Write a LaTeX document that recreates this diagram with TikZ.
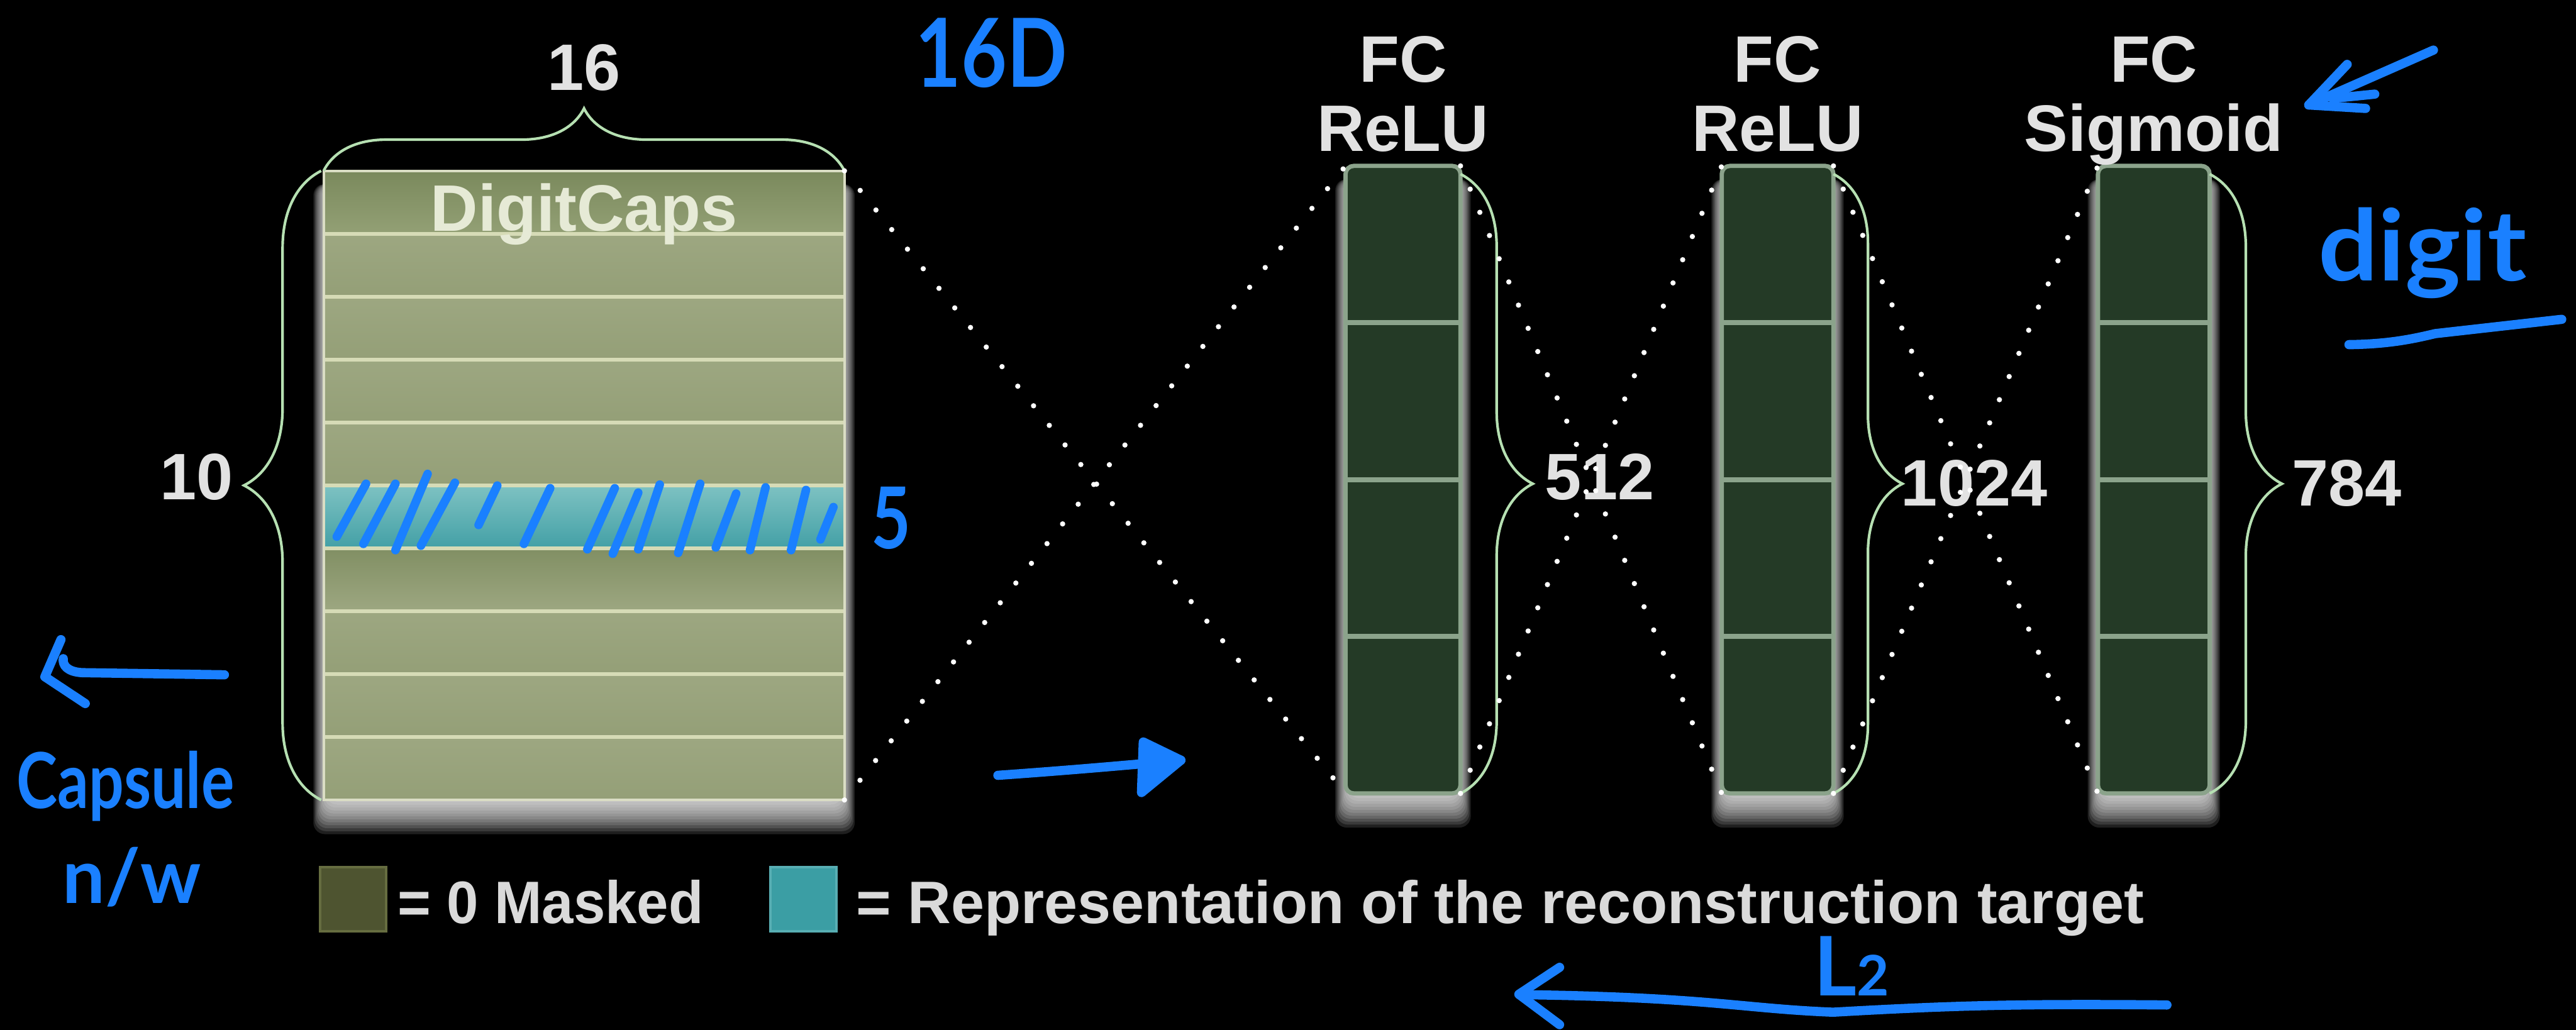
\documentclass[tikz,border=0pt]{standalone}
\usepackage{fontspec}
\setmainfont{Liberation Sans}
\newfontfamily\handfont{Lato}
\usetikzlibrary{decorations.pathreplacing}
\definecolor{lblgray}{HTML}{E2E2E2}
\definecolor{capstext}{HTML}{E6EAD6}
\definecolor{capsfill}{HTML}{98A37C}
\definecolor{captopA}{HTML}{7A895C}
\definecolor{captopB}{HTML}{93A075}
\definecolor{rowtop}{HTML}{9DA781}
\definecolor{rowbot}{HTML}{949F77}
\definecolor{tealtop}{HTML}{7EC2C2}
\definecolor{tealbot}{HTML}{43A0A6}
\definecolor{rowline}{HTML}{D6DBB6}
\definecolor{capsborder}{HTML}{DADDC4}
\definecolor{fcfill}{HTML}{243A26}
\definecolor{fcborder}{HTML}{8BA38B}
\definecolor{bracegreen}{HTML}{B6E0B2}
\definecolor{maskfill}{HTML}{4E5430}
\definecolor{maskborder}{HTML}{666D40}
\definecolor{legteal}{HTML}{3B9EA4}
\definecolor{legtealb}{HTML}{58AEB3}
\definecolor{legtext}{HTML}{DADADA}
\definecolor{handblue}{HTML}{1A80FF}
\newcommand\myglow[4]{%
  \foreach \k in {0,...,11}{%
    \fill[white, opacity=0.12, rounded corners=7pt]
      ({#1+2-0.75*\k},{#2+8}) rectangle ({#3-2+0.75*\k},{#4+1+1.8*\k});
  }}
\begin{document}
\begin{tikzpicture}[x=1pt,y=-1pt,
  box/.style={inner sep=0pt, outer sep=0pt, draw=none},
  lbl/.style={inner sep=0pt, text=lblgray, font=\bfseries\fontsize{40}{44}\selectfont},
  legtxt/.style={inner sep=0pt, text=legtext, font=\bfseries\fontsize{36.5}{40}\selectfont},
  brc/.style={draw=bracegreen, line width=1.6pt, decorate, decoration={brace, amplitude=#1}},
  dotline/.style={draw=white, line width=3.2pt, line cap=round, dash pattern=on 0pt off 15.3pt},
  hw/.style={draw=handblue, line width=5.6pt, line cap=round, line join=round},
  htext/.style={inner sep=0pt, text=handblue, font=\handfont\bfseries},
  fcline/.style={draw=fcborder, line width=3pt},
]
\useasboundingbox[fill=black] (0,0) rectangle (1568,627);

% ---------- DigitCaps block ----------
\node[box, minimum width=317pt, minimum height=383pt] (caps) at (355.5,295.5) {};
\myglow{197}{104}{514}{487}
\fill[capsfill] (197,104) rectangle (514,487);
\shade[top color=captopA, bottom color=captopB] (197,104) rectangle (514,142.3);
\foreach \i in {1,...,9}{
  \shade[top color=rowtop, bottom color=rowbot] (197,{104+38.3*\i}) rectangle (514,{104+38.3*(\i+1)});
}
\shade[top color=captopA!80!rowtop, bottom color=rowtop] (197,333.8) rectangle (514,372.1);
\shade[top color=tealtop, bottom color=tealbot] (197,295.5) rectangle (514,333.8);
\foreach \i in {1,...,9}{
  \draw[rowline, line width=2.4pt] (197,{104+38.3*\i}) -- (514,{104+38.3*\i});
}
\draw[capsborder, line width=1.6pt] (197,104) rectangle (514,487);

% ---------- FC columns ----------
\foreach \n/\cx/\w in {fc1/854/70, fc2/1082/68, fc3/1311/68}{
  \node[box, minimum width=\w pt, minimum height=382pt] (\n) at (\cx,292) {};
  \myglow{\cx-\w/2}{101}{\cx+\w/2}{483}
  \filldraw[fill=fcfill, draw=fcborder, line width=2.6pt, rounded corners=5pt]
    ({\cx-\w/2},101) rectangle ({\cx+\w/2},483);
  \foreach \yy in {196.5,292,387.5}{
    \draw[fcline] ({\cx-\w/2+1.3},\yy) -- ({\cx+\w/2-1.3},\yy);
  }
}

% ---------- braces ----------
\draw[brc=38] (caps.north west) -- (caps.north east);
\draw[brc=47] ([xshift=-1.5pt]caps.south west) -- ([xshift=-1.5pt]caps.north west);
\draw[brc=44] ([yshift=-5pt]fc1.north east) -- (fc1.south east);
\draw[brc=42] ([yshift=-5pt]fc2.north east) -- (fc2.south east);
\draw[brc=44] ([yshift=-5pt]fc3.north east) -- (fc3.south east);

% ---------- labels ----------
\node[lbl, anchor=base] (l16) at (355.5,55) {16};
\node[lbl, anchor=base, text=capstext] (ldc) at (355.5,140.5) {DigitCaps};
\node[lbl, anchor=base east] (l10) at (142,304) {10};
\node[lbl, anchor=base] (fc1a) at (854,50) {FC};
\node[lbl, anchor=base] (fc1b) at (854,92) {ReLU};
\node[lbl, anchor=base] (fc2a) at (1082,50) {FC};
\node[lbl, anchor=base] (fc2b) at (1082,92) {ReLU};
\node[lbl, anchor=base] (fc3a) at (1311,50) {FC};
\node[lbl, anchor=base] (fc3b) at (1311,92) {Sigmoid};
\node[lbl, anchor=base west] (n512) at (940,304) {512};
\node[lbl, anchor=base west] (n1024) at (1157,308) {1024};
\node[lbl, anchor=base west] (n784) at (1395,308) {784};

% ---------- dotted connections ----------
\draw[dotline] (caps.north east) -- (fc1.south west);
\draw[dotline] (caps.south east) -- (fc1.north west);
\draw[dotline] (fc1.north east) -- (fc2.south west);
\draw[dotline] (fc1.south east) -- (fc2.north west);
\draw[dotline] (fc2.north east) -- (fc3.south west);
\draw[dotline] (fc2.south east) -- (fc3.north west);

% ---------- legend ----------
\node[box, minimum width=40pt, minimum height=39pt, fill=maskfill, draw=maskborder, line width=1.5pt] (lgm) at (215,547.5) {};
\node[legtxt, anchor=base west] (lgmt) at (242,562) {\scalebox{0.95}[1]{= 0 Masked}};
\node[box, minimum width=40pt, minimum height=39pt, fill=legteal, draw=legtealb, line width=1.5pt] (lgt) at (489,547.5) {};
\node[legtxt, anchor=base west] (lgtt) at (521,562) {= Representation of the reconstruction target};

% ---------- hand-written annotations ----------
\foreach \a/\b/\c/\d in {222.8/294.5/205/326.7, 240.7/294.5/221.2/331.1, 260.3/288.5/240.7/334.9,
  276.9/293.9/256.2/332.2, 302.7/295.6/291.3/319.6, 334.9/297.2/318.9/331.1,
  374.2/297.2/357.5/334.4, 388.5/299.9/373/337.1, 401.6/295/388.5/334.4,
  426.2/294.5/412.8/336.6, 448.1/300.5/435.7/333.3, 466/296.7/456.5/334.9,
  490.6/298.3/481.5/334.9, 507.3/308.7/499.4/328.4}{
  \draw[hw, line width=5.2pt] (\a,\b) -- (\c,\d);
}
\node[htext, anchor=base west, font=\handfont\bfseries\fontsize{52}{56}\selectfont] (h5) at (530,334) {\scalebox{0.8}[1]{5}};
\node[htext, anchor=base west, font=\handfont\bfseries\fontsize{58}{62}\selectfont] (h16d) at (557,53) {\scalebox{0.83}[1]{16D}};
% left arrow
\draw[hw] (136.6,410.8) -- (50,409.5) .. controls (41,409) and (38,405) .. (38.5,401);
\draw[hw] (37.1,389.4) -- (27.3,412) -- (51.9,428.3);
\node[htext, anchor=base west, font=\handfont\bfseries\fontsize{47}{50}\selectfont] (hcap) at (10,492) {\scalebox{0.8}[1]{Capsule}};
\node[htext, anchor=base west, font=\handfont\bfseries\fontsize{46}{50}\selectfont] (hnw) at (38,550) {n/w};
% right arrow
\draw[hw] (607.4,472) .. controls (650,469) and (690,465.5) .. (718.8,462.8);
\filldraw[hw, fill=handblue] (695.9,451.7) -- (718.8,462.8) -- (694.8,482.5) -- cycle;
% top right arrow
\draw[hw] (1481.2,30.5) -- (1405.3,63.9);
\draw[hw] (1428.7,39.2) -- (1405.3,63.9) -- (1439.9,66);
\draw[hw] (1419.8,59.9) -- (1445.5,57.3);
\node[htext, anchor=base west, font=\handfont\bfseries\fontsize{60}{64}\selectfont] (hdig) at (1411,171) {\scalebox{1.07}[1]{digit}};
\draw[hw] (1429.8,209.8) .. controls (1455,209.5) and (1470,206) .. (1482.3,203.1) -- (1559.3,194.4);
% bottom arrow and L2
\draw[hw] (1319,611.8) .. controls (1230,611) and (1190,612) .. (1115.8,616.2) .. controls (1060,614) and (1040,607) .. (925,605.5);
\draw[hw] (949.3,588.9) -- (924.5,605.3) -- (949.3,623.8);
\node[htext, anchor=base west, font=\handfont\bfseries\fontsize{50}{54}\selectfont] (hl2) at (1104,606) {L\fontsize{34}{36}\selectfont 2};
\end{tikzpicture}
\end{document}
